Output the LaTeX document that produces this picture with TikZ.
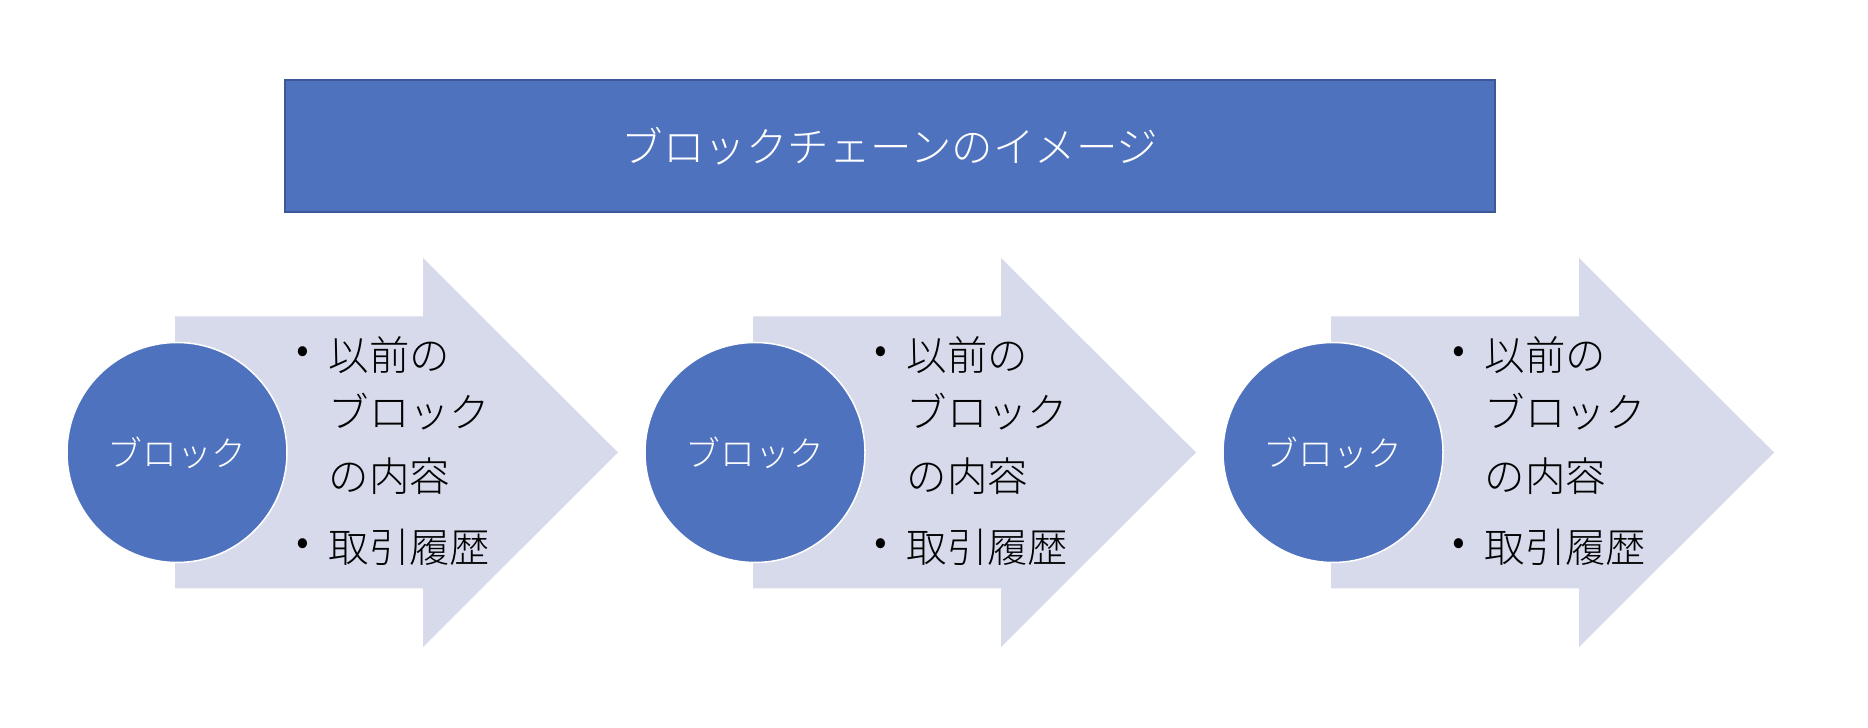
\documentclass[tikz,border=0pt]{standalone}
\usepackage{fontspec}
\setmainfont{Noto Sans CJK JP}[UprightFont=* Light]
\usepackage{tikz}
\definecolor{blockblue}{RGB}{79,114,190}
\definecolor{blockedge}{RGB}{60,88,150}
\definecolor{arrowgray}{RGB}{214,218,235}
\tikzset{
	titlebox/.style={fill=blockblue, draw=blockedge, line width=0.2mm, minimum width=12.1cm, minimum height=1.32cm, inner sep=0, text=white, font=\fontsize{11.8}{13}\selectfont},
	blockcircle/.style={circle, fill=blockblue, draw=white, line width=0.15mm, minimum size=2.2cm, inner sep=0, text=white, font=\fontsize{9.9}{11}\selectfont},
	arrowfill/.style={fill=arrowgray, draw=none},
	itemtext/.style={anchor=west, inner sep=0, font=\fontsize{11.5}{13}\selectfont},
	itemdot/.style={inner sep=0, font=\fontsize{11.5}{13}\selectfont}
}
% one arrow with its circle and its list, shifted by #1 (cm), names end in #2
\def\blockarrow#1#2{%
	\begin{scope}[xshift=#1cm]
		\draw[arrowfill] (1.75, 4.115) -- (4.23, 4.115) -- (4.23, 4.70) -- (6.18, 2.755) -- (4.23, 0.81) -- (4.23, 1.395) -- (1.75, 1.395) -- cycle;
		\node[blockcircle] (circ#2) at (1.77, 2.755) {ブロック};
		\node[itemdot] (dota#2) at (3.03, 3.73) {•};
		\node[itemtext] (prev#2) at (3.28, 3.73) {以前の};
		\node[itemtext] (blk#2) at (3.28, 3.16) {ブロック};
		\node[itemtext] (cont#2) at (3.28, 2.52) {の内容};
		\node[itemdot] (dotb#2) at (3.03, 1.81) {•};
		\node[itemtext] (hist#2) at (3.28, 1.81) {取引履歴};
	\end{scope}}

\begin{document}
\begin{tikzpicture}
	%%%%% START %%%%%
	\useasboundingbox (0, 0) rectangle (18.68, 7.28);
	
	\node[titlebox] (title) at (8.90, 5.82) {ブロックチェーンのイメージ};
	
	\blockarrow{0}{1}
	\blockarrow{5.78}{2}
	\blockarrow{11.56}{3}
	%%%%% END %%%%%
\end{tikzpicture}
\end{document}
